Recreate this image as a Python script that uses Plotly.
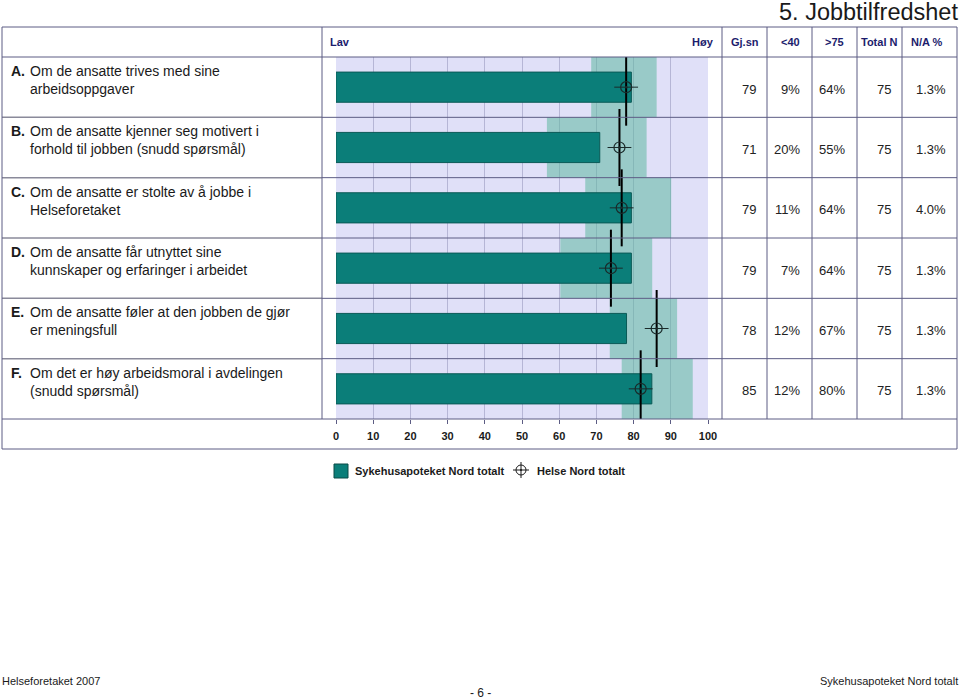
import plotly.graph_objects as go

# ---------------- data ----------------
letters = ["A.", "B.", "C.", "D.", "E.", "F."]
questions = [
    "Om de ansatte trives med sine<br>arbeidsoppgaver",
    "Om de ansatte kjenner seg motivert i<br>forhold til jobben (snudd spørsmål)",
    "Om de ansatte er stolte av å jobbe i<br>Helseforetaket",
    "Om de ansatte får utnyttet sine<br>kunnskaper og erfaringer i arbeidet",
    "Om de ansatte føler at den jobben de gjør<br>er meningsfull",
    "Om det er høy arbeidsmoral i avdelingen<br>(snudd spørsmål)",
]
unit_mean = [79.4, 70.9, 79.4, 79.4, 78.1, 84.9]          # Sykehusapoteket Nord totalt
region_mean = [78.0, 76.2, 76.8, 73.9, 86.2, 81.9]        # Helse Nord totalt
band_low = [68.6, 56.7, 67.0, 60.3, 73.6, 76.8]
band_high = [86.2, 83.5, 90.1, 85.0, 91.7, 95.9]

col_gjsn = ["79", "71", "79", "79", "78", "85"]
col_lt40 = ["9%", "20%", "11%", "7%", "12%", "12%"]
col_gt75 = ["64%", "55%", "64%", "64%", "67%", "80%"]
col_total = ["75", "75", "75", "75", "75", "75"]
col_na = ["1.3%", "1.3%", "4.0%", "1.3%", "1.3%", "1.3%"]

x_ticks = [0, 10, 20, 30, 40, 50, 60, 70, 80, 90, 100]
header_cols = ["Gj.sn", "<40", ">75", "Total N", "N/A %"]

# ---------------- helpers ----------------
W, H = 960, 700
FONT = "Liberation Sans, Arial, sans-serif"
NAVY = "#1c1c6c"
LINE = "#5c5c84"
TEAL = "#0b7e79"
MARK = "#1a2a2a"


def px(x):
    return x / W


def py(y):
    return 1 - y / H


rows = list(range(len(letters)))
ROW_PX = (419 - 57) / len(rows)

fig = go.Figure()

# range band
fig.add_trace(go.Bar(
    y=rows, x=[h - l for l, h in zip(band_low, band_high)], base=band_low,
    orientation="h", width=1.0,
    marker=dict(color="rgba(95,184,161,0.55)", line=dict(width=0)),
    showlegend=False, hoverinfo="skip"))

# unit bars
fig.add_trace(go.Bar(
    y=rows, x=unit_mean, orientation="h", width=0.5,
    marker=dict(color=TEAL, line=dict(color="#0a5a56", width=1)),
    name="Sykehusapoteket Nord totalt", showlegend=False))

# Helse Nord markers
fig.add_trace(go.Scatter(
    x=region_mean, y=rows, mode="markers",
    marker=dict(symbol="line-ns", size=55, color="black", line=dict(color="black", width=2)),
    showlegend=False, hoverinfo="skip"))
fig.add_trace(go.Scatter(
    x=region_mean, y=rows, mode="markers",
    marker=dict(symbol="line-ew", size=17, color=MARK, line=dict(color=MARK, width=1)),
    showlegend=False, hoverinfo="skip"))
fig.add_trace(go.Scatter(
    x=region_mean, y=rows, mode="markers",
    marker=dict(symbol="circle-open", size=11, color=MARK, line=dict(color=MARK, width=1.2)),
    showlegend=False, hoverinfo="skip"))
fig.add_trace(go.Scatter(
    x=region_mean, y=rows, mode="markers",
    marker=dict(symbol="circle", size=2.5, color=MARK, line=dict(width=0)),
    name="Helse Nord totalt", showlegend=False))

shapes = []


def hline(y, x0, x1, w=1, c=LINE):
    shapes.append(dict(type="line", xref="paper", yref="paper",
                       x0=px(x0), x1=px(x1), y0=py(y), y1=py(y),
                       line=dict(color=c, width=w)))


def vline(x, y0, y1, w=1, c=LINE):
    shapes.append(dict(type="line", xref="paper", yref="paper",
                       x0=px(x), x1=px(x), y0=py(y0), y1=py(y1),
                       line=dict(color=c, width=w)))


# table grid
hline(27, 2, 957)
hline(57, 2, 957)
for i in range(1, len(rows)):
    yy = 57 + i * ROW_PX
    hline(yy, 2, 322, 1.5, "#8a8a9a")
    hline(yy, 322, 957)
hline(419, 2, 957)
hline(449, 2, 957)
vline(2, 27, 449)
vline(957, 27, 449)
for xx in [322, 722, 767, 812, 857, 902]:
    vline(xx, 27, 419)

# manual legend
shapes.append(dict(type="rect", xref="paper", yref="paper",
                   x0=px(334), x1=px(348), y0=py(478), y1=py(464),
                   fillcolor=TEAL, line=dict(color="#0a4a46", width=1)))
cx, cy = 521, 470
shapes.append(dict(type="circle", xref="paper", yref="paper",
                   x0=px(cx - 5), x1=px(cx + 5), y0=py(cy + 5), y1=py(cy - 5),
                   line=dict(color="#1a1a1a", width=1)))
hline(cy, cx - 8, cx + 8, 1, "#1a1a1a")
vline(cx, cy - 8, cy + 8, 1, "#1a1a1a")
shapes.append(dict(type="circle", xref="paper", yref="paper",
                   x0=px(cx - 1), x1=px(cx + 1), y0=py(cy + 1), y1=py(cy - 1),
                   fillcolor="#1a1a1a", line=dict(color="#1a1a1a", width=0)))

ann = []


def text(x, y, s, size=11, color="#1a1a1a", xanchor="left", yanchor="middle",
         bold=False, yref="paper", family=FONT):
    ann.append(dict(x=x, y=y, xref="paper", yref=yref, text=(f"<b>{s}</b>" if bold else s),
                    showarrow=False, xanchor=xanchor, yanchor=yanchor, align="left",
                    font=dict(family=family, size=size, color=color)))


# title
text(px(960), py(12), "5. Jobbtilfredshet", size=23.5, xanchor="right", color="#1a1a1a")

# header
text(px(328), py(42), "Lav", bold=True, color=NAVY)
text(px(716), py(42), "Høy", bold=True, color=NAVY, xanchor="right")
for name, cxh in zip(header_cols, [745, 790, 834, 879, 927]):
    text(px(cxh), py(42), name, bold=True, color=NAVY, xanchor="center")

# row labels and numbers
top_off = 4 / ROW_PX
for i in rows:
    text(px(9), i - 0.5 + top_off, letters[i], size=14, bold=True, yanchor="top", yref="y")
    text(px(28), i - 0.5 + top_off, questions[i], size=14, yanchor="top", yref="y")
    yy = i + 2 / ROW_PX
    for vals, xr in zip([col_gjsn, col_lt40, col_gt75, col_total, col_na],
                        [758, 802, 847, 893, 948]):
        text(px(xr), yy, vals[i], size=13, xanchor="right", yref="y", color="#222222")

# legend texts
text(px(353), py(471), "Sykehusapoteket Nord totalt", bold=True, color="#1a1a1a")
text(px(535), py(471), "Helse Nord totalt", bold=True, color="#1a1a1a")

# footer
NARROW = "Liberation Sans Narrow, Arial Narrow, Liberation Sans, sans-serif"
text(px(0), py(681), "Helseforetaket 2007", size=11, family=NARROW)
text(px(960), py(681), "Sykehusapoteket Nord totalt", size=11, xanchor="right", family=NARROW)
text(px(480), py(693), "- 6 -", size=12, xanchor="center", family=NARROW)

fig.update_layout(
    width=W, height=H, autosize=False,
    margin=dict(l=0, r=0, t=0, b=0, pad=0, autoexpand=False),
    paper_bgcolor="white", plot_bgcolor="#e0e0f8",
    barmode="overlay", showlegend=False,
    shapes=shapes, annotations=ann,
    font=dict(family=FONT),
    xaxis=dict(domain=[px(336), px(708)], range=[0, 100], tickvals=x_ticks,
               showgrid=True, gridcolor="#b6b6d6", gridwidth=1, zeroline=False,
               ticks="outside", ticklen=4, tickcolor=LINE, showline=False,
               tickfont=dict(family=FONT, size=11, color="#1a1a1a", weight="bold"),
               ticklabelstandoff=3, fixedrange=True, automargin=False),
    yaxis=dict(domain=[py(419), py(57)], range=[len(rows) - 0.5, -0.5],
               showgrid=False, zeroline=False, showticklabels=False, ticks="",
               fixedrange=True, automargin=False),
)

fig.write_html("out.html", config={"displayModeBar": False})

# remove the browser's default page margin so the figure sits at (0, 0)
with open("out.html", encoding="utf-8") as f:
    html = f.read()
html = html.replace("<head>", "<head><style>html,body{margin:0;padding:0;overflow:hidden;}</style>", 1)
with open("out.html", "w", encoding="utf-8") as f:
    f.write(html)
